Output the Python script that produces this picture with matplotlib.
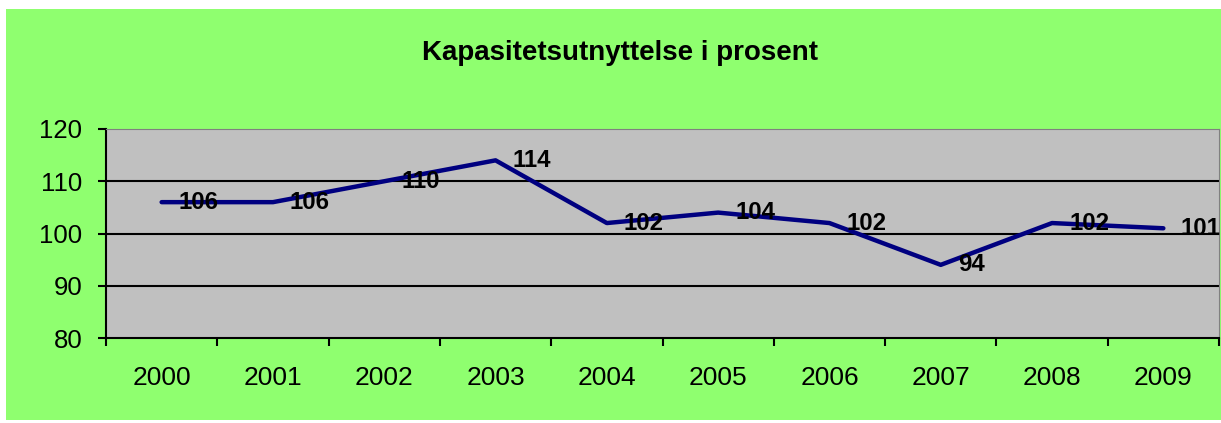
import matplotlib
matplotlib.use("Agg")
import matplotlib.pyplot as plt
from matplotlib.patches import Rectangle

plt.rcParams['font.family'] = ['Liberation Sans', 'DejaVu Sans']

# data
aar = ['2000', '2001', '2002', '2003', '2004', '2005', '2006', '2007', '2008', '2009']
prosent = [106, 106, 110, 114, 102, 104, 102, 94, 102, 101]
tittel = "Kapasitetsutnyttelse i prosent"

W, H = 1221, 423
fig = plt.figure(figsize=(W / 100, H / 100), dpi=100)
fig.patch.set_facecolor('white')
# groen bakgrunn for diagrammet
fig.patches.append(Rectangle((6 / W, 1 - 420 / H), 1 - 6 / W, (420 - 9) / H,
                             transform=fig.transFigure, facecolor='#8FFF6F',
                             edgecolor='none', zorder=-10))

ax = fig.add_axes([106 / W, 1 - 338 / H, (1219 - 106) / W, (338 - 129) / H])
ax.set_facecolor('#C0C0C0')
x = list(range(len(aar)))
ax.plot(x, prosent, color='#000080', linewidth=3.2, solid_capstyle='round', zorder=3)

for xi, v in zip(x, prosent):
    ax.annotate(str(v), (xi, v), xytext=(17, 0), textcoords='offset pixels',
                ha='left', va='center', fontsize=17.3, fontweight='bold', zorder=4)

ax.set_xlim(-0.5, len(aar) - 0.5)
ax.set_ylim(80, 120)
ax.set_yticks([80, 90, 100, 110, 120])
ax.set_xticks([i + 0.5 for i in range(-1, len(aar))], minor=False)
ax.set_xticklabels([])
ax.set_xticks(x, minor=True)
ax.set_xticklabels(aar, minor=True)
ax.tick_params(axis='x', which='minor', length=0, labelsize=19, pad=20)
ax.tick_params(axis='x', which='major', length=6, width=1.5, direction='out')
ax.tick_params(axis='y', length=6, width=1.5, labelsize=18.5, pad=11, direction='out')

for y in [90, 100, 110]:
    ax.axhline(y, color='black', linewidth=1.5, zorder=1)

ax.spines['left'].set_linewidth(1.5)
ax.spines['bottom'].set_linewidth(1.5)
ax.spines['top'].set_color('#808080')
ax.spines['right'].set_color('#808080')

fig.text(620 / W, 1 - 59.5 / H, tittel, ha='center', va='baseline',
         fontsize=20, fontweight='bold')

fig.savefig('out.png', dpi=100)
